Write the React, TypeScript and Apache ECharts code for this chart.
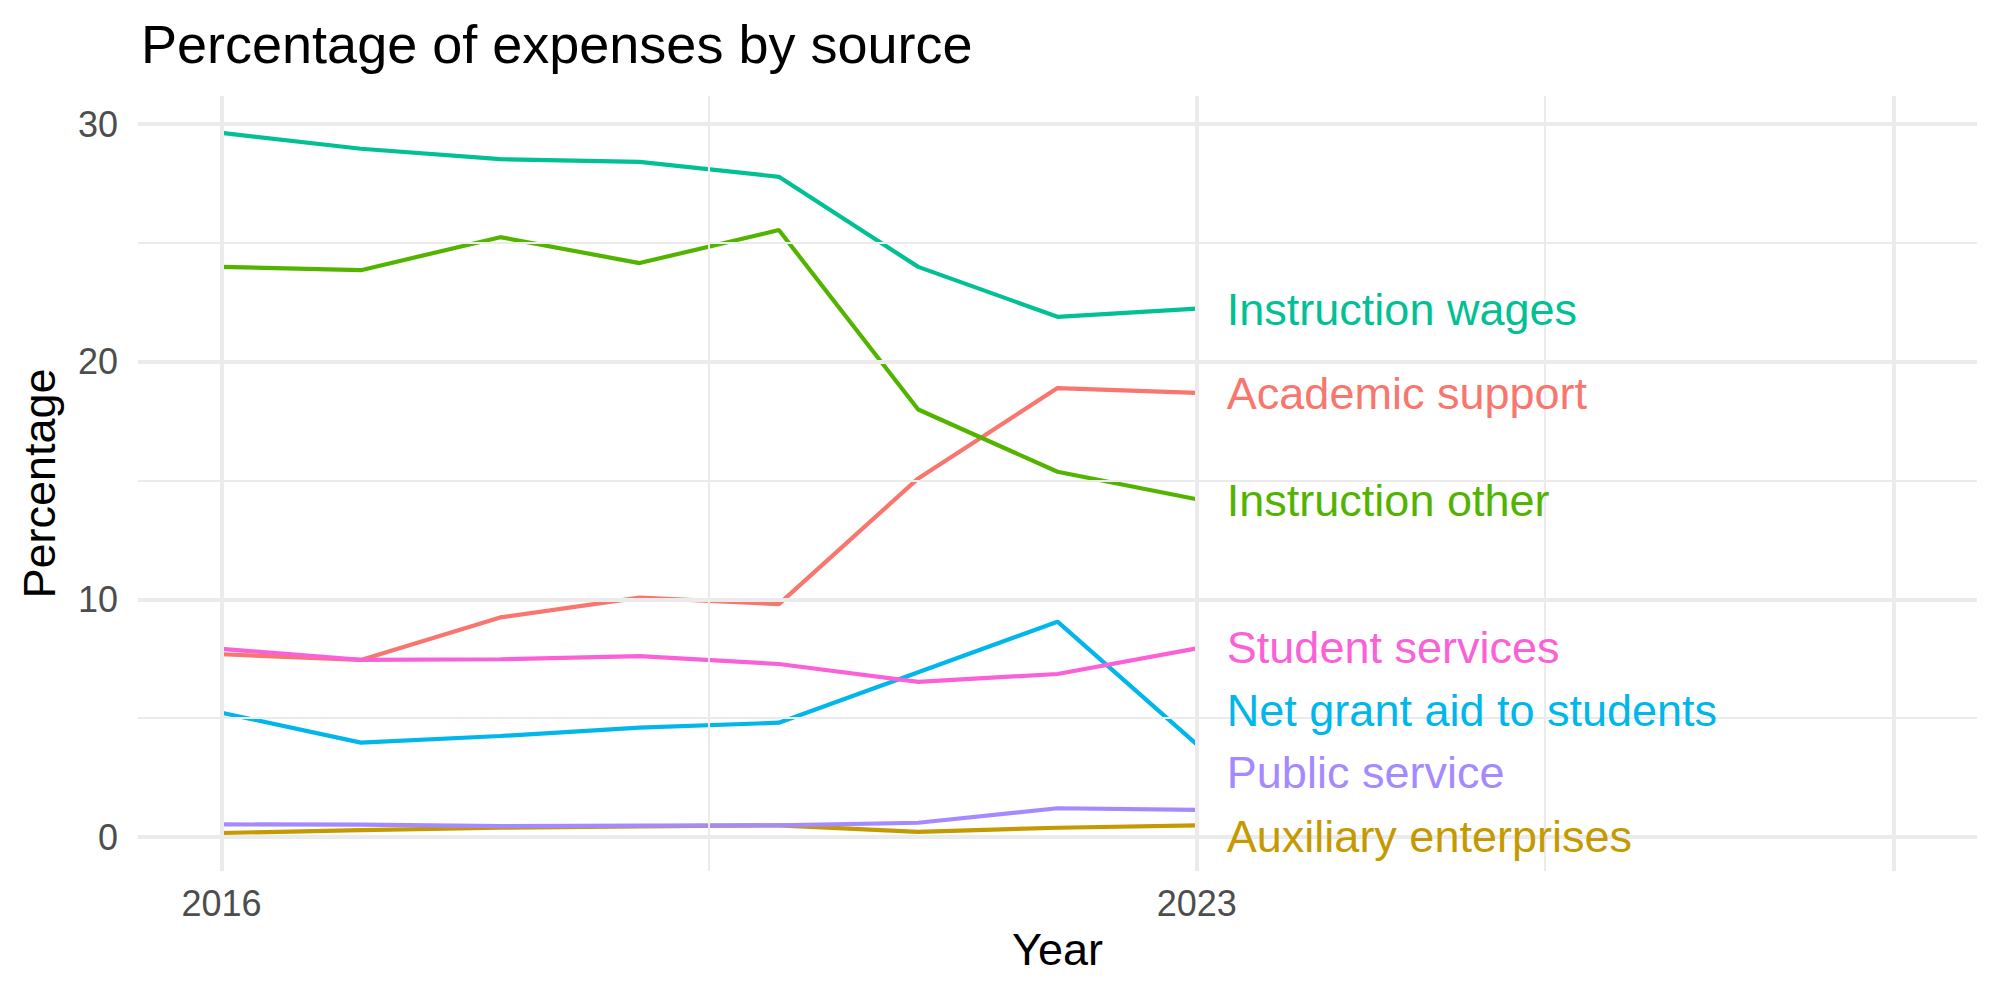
import React, { useEffect, useRef } from "react";
import * as echarts from "echarts";

const years = [2016, 2017, 2018, 2019, 2020, 2021, 2022, 2023];
const categories = [
  "Academic support",
  "Auxiliary enterprises",
  "Instruction other",
  "Instruction wages",
  "Net grant aid to students",
  "Public service",
  "Student services",
];
const academicSupport = [7.69, 7.45, 9.24, 10.07, 9.8, 15.09, 18.89, 18.69];
const auxiliaryEnterprises = [0.17, 0.29, 0.39, 0.45, 0.49, 0.22, 0.39, 0.49];
const instructionOther = [23.99, 23.85, 25.24, 24.15, 25.54, 17.99, 15.37, 14.21];
const instructionWages = [29.63, 28.96, 28.52, 28.41, 27.78, 23.99, 21.89, 22.23];
const netGrantAid = [5.23, 3.97, 4.25, 4.6, 4.81, 6.93, 9.06, 3.9];
const publicService = [0.53, 0.52, 0.46, 0.48, 0.49, 0.6, 1.21, 1.14];
const studentServices = [7.92, 7.45, 7.48, 7.61, 7.28, 6.53, 6.86, 7.94];

const seriesValues = [
  academicSupport,
  auxiliaryEnterprises,
  instructionOther,
  instructionWages,
  netGrantAid,
  publicService,
  studentServices,
];
const colors = ["#F8766D", "#C49A00", "#53B400", "#00C094", "#00B6EB", "#A58AFF", "#FB61D7"];

// label positions (repelled) at the end of each line
const labelX = 2023;
const labelY = [18.68, 0.01, 14.17, 22.2, 5.34, 2.7, 7.97];

const xTickLabels = [2016, 2023];
const xMajorGrid = [2016, 2023, 2028];
const xMinorGrid = [2019.5, 2025.5];
const yTickLabels = [0, 10, 20, 30];
const yMajorGrid = [0, 10, 20, 30];
const yMinorGrid = [5, 15, 25];

const FONT = "'Liberation Sans', Arial, sans-serif";

export default function App() {
  const ref = useRef<HTMLDivElement>(null);
  useEffect(() => {
    if (!ref.current) return;
    const chart = echarts.init(ref.current, undefined, { renderer: "svg" });
    const gridColor = "#EBEBEB";
    const markData: any[] = [];
    xMajorGrid.forEach((v) => markData.push({ xAxis: v, lineStyle: { width: 4, color: gridColor, type: "solid" } }));
    xMinorGrid.forEach((v) => markData.push({ xAxis: v, lineStyle: { width: 2, color: gridColor, type: "solid" } }));
    yMajorGrid.forEach((v) => markData.push({ yAxis: v, lineStyle: { width: 4, color: gridColor, type: "solid" } }));
    yMinorGrid.forEach((v) => markData.push({ yAxis: v, lineStyle: { width: 2, color: gridColor, type: "solid" } }));

    const lineSeries = categories.map((name, i) => ({
      name,
      type: "line",
      z: 3,
      data: years.map((y, j) => [y, seriesValues[i][j]]),
      showSymbol: false,
      symbol: "none",
      lineStyle: { color: colors[i], width: 4.2 },
      itemStyle: { color: colors[i] },
      silent: true,
    }));

    const option: any = {
      animation: false,
      backgroundColor: "#ffffff",
      title: {
        text: "Percentage of expenses by source",
        left: 136,
        top: 12,
        textStyle: { fontFamily: FONT, fontSize: 54, fontWeight: "normal", color: "#000000" },
      },
      grid: { left: 138, right: 23, top: 96, bottom: 129 },
      xAxis: {
        type: "value",
        min: 2015.4,
        max: 2028.6,
        axisLine: { show: false },
        axisTick: { show: false },
        splitLine: { show: false },
        axisLabel: {
          customValues: xTickLabels,
          formatter: (v: number) => String(v),
          color: "#4D4D4D",
          fontSize: 36,
          fontFamily: FONT,
          margin: 14,
        },
        name: "Year",
        nameLocation: "middle",
        nameGap: 56,
        nameTextStyle: { fontSize: 45, color: "#000000", fontFamily: FONT },
      },
      yAxis: {
        type: "value",
        min: -1.43,
        max: 31.18,
        axisLine: { show: false },
        axisTick: { show: false },
        splitLine: { show: false },
        axisLabel: {
          customValues: yTickLabels,
          formatter: (v: number) => String(v),
          color: "#4D4D4D",
          fontSize: 36,
          fontFamily: FONT,
          margin: 20,
        },
        name: "Percentage",
        nameLocation: "middle",
        nameRotate: 90,
        nameGap: 76,
        nameTextStyle: { fontSize: 45, color: "#000000", fontFamily: FONT },
      },
      series: [
        {
          type: "line",
          name: "grid",
          z: 1,
          data: [],
          silent: true,
          markLine: {
            silent: true,
            symbol: ["none", "none"],
            label: { show: false },
            animation: false,
            data: markData,
          },
        },
        ...lineSeries,
      ],
    };
    chart.setOption(option);

    const labels = categories.map((name, i) => {
      const p = chart.convertToPixel({ gridIndex: 0 }, [labelX, labelY[i]]) as number[];
      return {
        type: "text",
        x: p[0] + 30,
        y: p[1],
        z: 10,
        silent: true,
        style: {
          text: name,
          fill: colors[i],
          font: `45px ${FONT}`,
          fontSize: 45,
          fontFamily: FONT,
          textAlign: "left",
          textVerticalAlign: "middle",
          verticalAlign: "middle",
        },
      };
    });
    chart.setOption({ graphic: labels });
    return () => chart.dispose();
  }, []);
  return (
    <div
      ref={ref}
      style={{ position: "fixed", left: 0, top: 0, width: 2000, height: 1000, background: "#fff" }}
    />
  );
}
